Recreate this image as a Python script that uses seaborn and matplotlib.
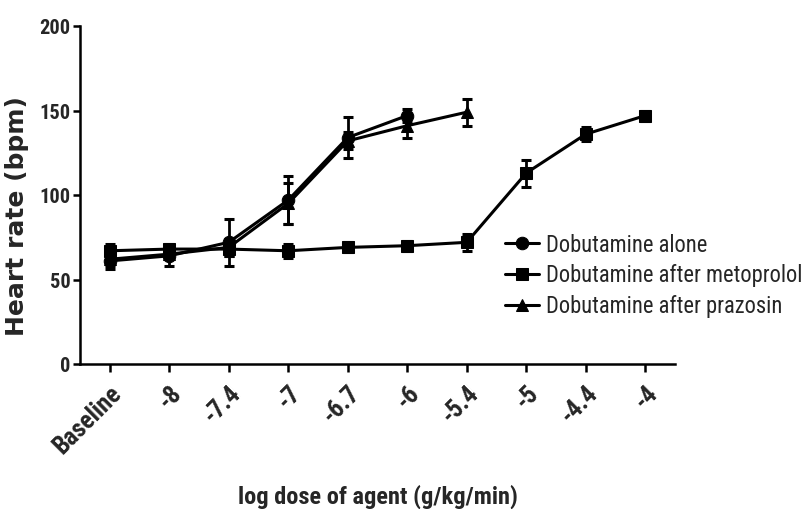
import matplotlib
matplotlib.use("Agg")
import matplotlib.pyplot as plt
from matplotlib import font_manager
import seaborn as sns
import pandas as pd

# ---- data ----
dose_labels = ["Baseline", "-8", "-7.4", "-7", "-6.7", "-6", "-5.4", "-5", "-4.4", "-4"]

alone_hr = [61, 64, 72, 97, 134, 147]
alone_err = [5, 6, 14, 14, 12, 4]

metoprolol_hr = [67, 68, 68, 67, 69, 70, 72, 113, 136, 147]
metoprolol_err = [4, 3, 4, 4, 3, 3, 5, 8, 4, 3]

prazosin_hr = [62, 65, 69, 95, 132, 141, 149]
prazosin_err = [4, 3, 5, 12, 5, 7, 8]

series_names = ["Dobutamine alone", "Dobutamine after metoprolol", "Dobutamine after prazosin"]
series_vals = [alone_hr, metoprolol_hr, prazosin_hr]
series_errs = [alone_err, metoprolol_err, prazosin_err]

rows = []
for name, vals, errs in zip(series_names, series_vals, series_errs):
    for i, (v, e) in enumerate(zip(vals, errs)):
        rows.append({"pos": i, "hr": v, "err": e, "group": name})
df = pd.DataFrame(rows)

# pick a narrow face if one is installed, otherwise Liberation Sans
installed = {f.name for f in font_manager.fontManager.ttflist}
narrow = next((n for n in ["Liberation Sans Narrow", "DejaVu Sans Condensed", "Roboto Condensed",
                           "Open Sans Condensed", "Noto Sans Condensed", "Arial Narrow"]
               if n in installed), "Liberation Sans")
base = "Liberation Sans" if "Liberation Sans" in installed else "DejaVu Sans"

sns.set_style("ticks")
plt.rcParams["font.family"] = [narrow, base, "DejaVu Sans"]

fig = plt.figure(figsize=(8.04, 5.10), dpi=100)
ax = fig.add_axes([80 / 804, 1 - 365 / 510, 595 / 804, 338 / 510])
renderer = fig.canvas.get_renderer()


def fit_size(text, target_px, **kw):
    t = fig.text(0, 0, text, fontsize=10, **kw)
    w = t.get_window_extent(renderer).width
    t.remove()
    return 10.0 * target_px / w


fam = [narrow, base, "DejaVu Sans"]
legend_fs = fit_size("Dobutamine after metoprolol", 255, family=fam)
xlabel_fs = fit_size("log dose of agent (g/kg/min)", 280, family=fam, fontweight="bold")
ytick_fs = fit_size("150", 31, family=fam, fontweight="bold")
xtick_fs = fit_size("Baseline", 85, family=fam, fontweight="bold")
ylab_fam = ["DejaVu Sans"]
ylabel_fs = fit_size("Heart rate (bpm)", 240, family=ylab_fam, fontweight="bold")

markers = {"Dobutamine alone": "o", "Dobutamine after metoprolol": "s", "Dobutamine after prazosin": "^"}
sns.lineplot(data=df, x="pos", y="hr", hue="group", style="group", hue_order=series_names,
             style_order=series_names, palette=["black"] * 3, markers=markers, dashes=False,
             markersize=9, linewidth=2.2, markeredgecolor="black", ax=ax, legend=True)

for name in series_names:
    sub = df[df["group"] == name]
    ax.errorbar(sub["pos"], sub["hr"], yerr=sub["err"], fmt="none", ecolor="black",
                elinewidth=2.0, capsize=3.5, capthick=2.2, zorder=1)

ax.set_xlim(-0.5, 9.5)
ax.set_ylim(0, 200)
ax.set_yticks([0, 50, 100, 150, 200])
ax.set_xticks(range(len(dose_labels)))
ax.set_xticklabels(dose_labels, rotation=45, ha="right", rotation_mode="anchor",
                   fontsize=xtick_fs, fontweight="bold")
for lab in ax.get_yticklabels():
    lab.set_fontsize(ytick_fs)
    lab.set_fontweight("bold")

sns.despine(ax=ax)
for sp in ["left", "bottom"]:
    ax.spines[sp].set_linewidth(1.8)
    ax.spines[sp].set_color("black")
ax.tick_params(axis="both", width=1.8, length=5, color="black", pad=2)
ax.tick_params(axis="x", length=6, pad=6)

ax.set_ylabel("Heart rate (bpm)", fontsize=ylabel_fs, fontweight="bold", family=ylab_fam)
ax.yaxis.set_label_coords(-0.085, 0.44)
ax.set_xlabel("log dose of agent (g/kg/min)", fontsize=xlabel_fs, fontweight="bold")
ax.xaxis.set_label_coords(0.5, -0.355)

handles, labels = ax.get_legend_handles_labels()
leg = ax.legend(handles, labels, loc="center left", bbox_to_anchor=(494 / 804, 1 - 276 / 510),
                bbox_transform=fig.transFigure, frameon=False, fontsize=legend_fs, borderpad=0,
                handlelength=1.5, handletextpad=0.3, labelspacing=0.35)

fig.savefig("out.png", dpi=100)
